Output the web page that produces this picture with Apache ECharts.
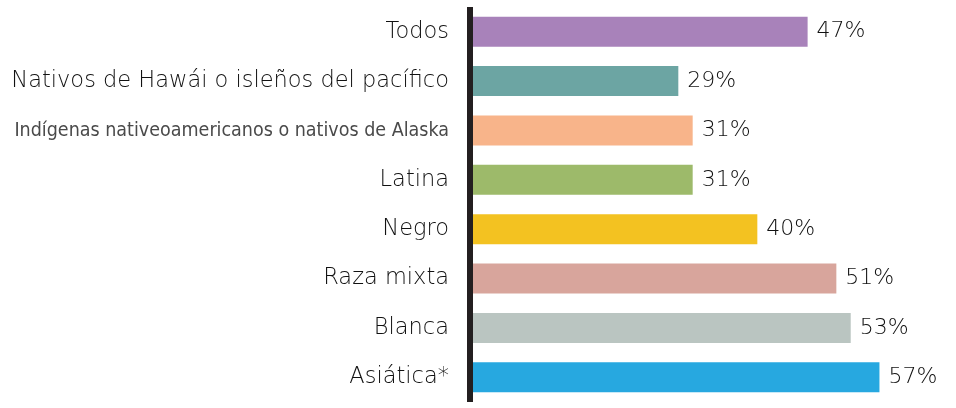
<!DOCTYPE html>
<html>
<head>
<meta charset="utf-8">
<script src="https://cdn.jsdelivr.net/npm/echarts@6/dist/echarts.min.js"></script>
<style>
  html, body { margin: 0; padding: 0; background: #fff; }
  #chart { width: 956px; height: 408px; }
</style>
</head>
<body>
<div id="chart"></div>
<script>
var categories = [
    "Todos",
    "Nativos de Hawái o isleños del pacífico",
    "Indígenas nativeoamericanos o nativos de Alaska",
    "Latina",
    "Negro",
    "Raza mixta",
    "Blanca",
    "Asiática*"
];
var values = [47, 29, 31, 31, 40, 51, 53, 57];
var barColors = ["#a882ba", "#6ca5a3", "#f8b48a", "#9dba6a", "#f3c221", "#d8a59c", "#bac5c1", "#27a8e0"];

var myChart = echarts.init(document.getElementById("chart"));
var option = {
    animation: false,
    grid: { left: 470, right: 55, top: 7, bottom: 6 },
    xAxis: {
        type: 'value',
        min: 0,
        max: 60,
        show: false
    },
    yAxis: {
        type: 'category',
        inverse: true,
        data: categories,
        axisTick: { show: false },
        axisLine: {
            show: true,
            lineStyle: { color: '#231f20', width: 6, cap: 'butt' }
        },
        z: 10,
        axisLabel: {
            margin: 21,
            fontFamily: 'DejaVu Sans',
            fontWeight: 200,
            fontSize: 22.5,
            color: '#111',
            formatter: function (v) {
                if (v.indexOf('Indígenas') === 0) return '{narrow|' + v + '}';
                return v;
            },
            rich: {
                narrow: {
                    fontFamily: 'DejaVu Sans Condensed',
                    fontWeight: 'normal',
                    fontSize: 19.5,
                    color: '#4a4a4a'
                }
            }
        }
    },
    series: [{
        type: 'bar',
        barWidth: 30,
        data: values.map(function (v, i) {
            return { value: v, itemStyle: { color: barColors[i] } };
        }),
        label: {
            show: true,
            position: 'right',
            distance: 9,
            fontFamily: 'DejaVu Sans',
            fontWeight: 200,
            fontSize: 22,
            color: '#111',
            formatter: '{c}%'
        }
    }]
};
myChart.setOption(option);
</script>
</body>
</html>
